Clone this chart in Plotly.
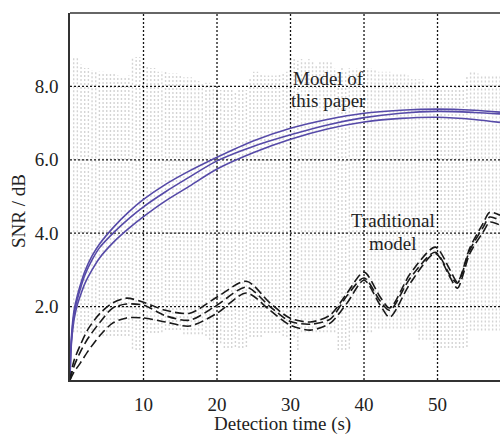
import numpy as np
import plotly.graph_objects as go

# ---------------- data ----------------
x_ticks = [10, 20, 30, 40, 50]
y_ticks = [2, 4, 6, 8]
y_tick_labels = ["2.0", "4.0", "6.0", "8.0"]

# background measurement spread (gray dotted columns), x = 0.5 ... 58.5 step 0.5
noise_x = list(np.arange(0.5, 58.51, 0.5))
noise_top = [
    8.8, 8.8, 8.6, 8.5, 8.5, 8.45, 8.4, 8.4, 8.4, 8.35,
    8.35, 8.35, 8.3, 8.25, 8.25, 8.3, 8.8, 8.8, 8.8, 8.6,
    8.55, 8.5, 8.5, 8.4, 8.4, 8.4, 8.35, 8.35, 8.35, 8.3,
    8.25, 8.25, 8.25, 8.2, 8.15, 8.1, 8.1, 8.1, 8.1, 8.0,
    7.9, 7.9, 7.95, 7.9, 7.85, 7.9, 7.95, 7.9, 8.2, 8.4,
    8.4, 8.35, 8.3, 8.3, 8.3, 8.3, 8.35, 8.35, 8.4, 8.75,
    8.75, 8.7, 8.75, 8.7, 8.75, 8.7, 8.6, 8.7, 8.7, 8.7,
    8.65, 8.5, 8.45, 8.5, 8.45, 8.5, 8.45, 8.5, 8.45, 8.5,
    8.5, 8.5, 8.45, 8.4, 8.4, 8.4, 8.4, 8.35, 8.35, 8.35,
    8.35, 8.3, 8.2, 8.2, 8.2, 8.2, 8.0, 7.95, 7.95, 7.95,
    7.95, 7.9, 7.95, 7.95, 8.0, 8.0, 7.95, 8.3, 8.4, 8.4,
    8.35, 8.3, 8.3, 8.3, 8.3, 8.3, 8.3,
]
noise_bottom = [
    1.3, 1.3, 1.28, 1.28, 1.28, 1.25, 1.25, 1.2, 1.2, 1.2,
    1.2, 1.2, 1.2, 1.2, 1.2, 1.2, 0.85, 0.82, 0.82, 0.85,
    1.28, 1.28, 1.28, 1.28, 1.3, 1.36, 1.36, 1.36, 1.36, 1.36,
    1.25, 1.25, 1.25, 1.25, 1.25, 1.25, 1.2, 1.1, 1.0, 1.0,
    1.0, 0.87, 0.87, 0.87, 0.9, 0.87, 0.87, 0.9, 1.17, 1.17,
    1.17, 1.17, 1.28, 1.28, 1.28, 1.28, 1.28, 1.2, 1.17, 1.17,
    1.17, 0.82, 1.3, 1.3, 1.3, 1.3, 1.3, 1.3, 1.3, 1.3,
    1.3, 1.3, 0.82, 0.82, 0.82, 0.85, 1.3, 1.3, 1.3, 1.3,
    1.3, 1.3, 1.4, 1.4, 1.4, 1.4, 1.4, 1.4, 1.4, 1.4,
    1.4, 1.4, 1.4, 1.4, 1.1, 1.1, 1.1, 1.1, 0.87, 0.87,
    0.87, 0.87, 0.87, 0.87, 0.87, 0.87, 0.87, 0.9, 1.35, 1.35,
    1.35, 1.35, 1.35, 1.35, 1.35, 1.35, 1.35,
]

# "Model of this paper" curves
model_x = [0, 0.1, 0.3, 0.6, 1, 1.5, 2, 3, 4, 6, 8, 10, 13, 16, 20, 25, 30, 35, 40, 45, 50, 55, 58.5]
model_1 = [0, 0.8, 1.45, 1.95, 2.3, 2.65, 2.95, 3.38, 3.7, 4.18, 4.58, 4.92, 5.33, 5.67, 6.07, 6.52, 6.86, 7.1, 7.27, 7.35, 7.38, 7.35, 7.3]
model_2 = [0, 0.75, 1.35, 1.85, 2.2, 2.55, 2.85, 3.27, 3.6, 4.03, 4.4, 4.72, 5.13, 5.5, 5.97, 6.37, 6.68, 6.95, 7.15, 7.27, 7.32, 7.29, 7.25]
model_3 = [0, 0.7, 1.25, 1.7, 2.05, 2.35, 2.62, 3.0, 3.32, 3.77, 4.13, 4.45, 4.88, 5.25, 5.75, 6.2, 6.56, 6.84, 7.03, 7.13, 7.16, 7.1, 7.02]

# "Traditional model" curves
trad_x = [0, 0.5, 1.4, 2.5, 4.1, 5.8, 7.7, 10, 13, 16.3, 20, 24, 27.2, 29.9, 32.7, 35.4, 37.7, 40, 42.2, 43.5,
          46.3, 49.7, 51.7, 52.7, 54.4, 56.2, 57.1, 58.5]
trad_1 = [0, 0.5, 0.95, 1.4, 1.82, 2.1, 2.23, 2.12, 1.9, 1.82, 2.26, 2.69, 2.1, 1.69, 1.58, 1.77, 2.37, 2.94, 2.26, 1.96,
          2.9, 3.62, 3.0, 2.67, 3.6, 4.27, 4.57, 4.49]
trad_2 = [0, 0.35, 0.76, 1.15, 1.58, 1.96, 2.07, 2.04, 1.75, 1.63, 2.04, 2.53, 2.0, 1.6, 1.52, 1.66, 2.3, 2.78, 2.15, 1.9,
          2.78, 3.48, 2.86, 2.64, 3.54, 4.16, 4.44, 4.35]
trad_3 = [0, 0.2, 0.46, 0.8, 1.22, 1.55, 1.69, 1.69, 1.58, 1.47, 1.82, 2.37, 1.9, 1.5, 1.36, 1.55, 2.1, 2.72, 2.04, 1.71,
          2.64, 3.45, 2.8, 2.5, 3.45, 4.03, 4.3, 4.22]

X_RANGE = [0, 58.5]
Y_RANGE = [0, 10]

FONT = "Liberation Serif, Times New Roman, serif"
BLUE = "rgb(86,74,168)"
TXT = "#222"
FS = 19

fig = go.Figure()

# gray dotted columns
nx, ny = [], []
for xv, b, t in zip(noise_x, noise_bottom, noise_top):
    nx += [xv, xv, None]
    ny += [b, t, None]
fig.add_trace(go.Scatter(x=nx, y=ny, mode="lines", hoverinfo="skip",
                         line=dict(color="rgb(212,212,212)", width=1.4, dash="2px,2px")))

# dotted grid drawn as traces above the gray columns
gx, gy = [], []
for xv in x_ticks:
    gx += [xv, xv, None]
    gy += [Y_RANGE[0], Y_RANGE[1], None]
for yv in y_ticks:
    gx += [X_RANGE[0], X_RANGE[1], None]
    gy += [yv, yv, None]
fig.add_trace(go.Scatter(x=gx, y=gy, mode="lines", hoverinfo="skip",
                         line=dict(color="rgb(20,20,20)", width=1.3, dash="2px,2px")))

for ys in (model_1, model_2, model_3):
    fig.add_trace(go.Scatter(x=model_x, y=ys, mode="lines",
                             line=dict(color=BLUE, width=1.6, shape="spline", smoothing=0.8)))

for ys in (trad_1, trad_2, trad_3):
    fig.add_trace(go.Scatter(x=trad_x, y=ys, mode="lines",
                             line=dict(color="rgb(25,25,25)", width=1.6, dash="9px,4px",
                                       shape="spline", smoothing=0.8)))

W, H = 500, 434
PL, PT, PR, PB = 70, 13, 500, 380   # plot area in pixels
ML, MR, MT, MB = PL, W - PR, PT, H - PB
pw, ph = PR - PL, PB - PT

annotations = [
    dict(x=35.2, y=8.22, text="Model of", xref="x", yref="y"),
    dict(x=35.2, y=7.62, text="this paper", xref="x", yref="y"),
    dict(x=44.0, y=4.35, text="Traditional", xref="x", yref="y"),
    dict(x=44.0, y=3.73, text="model", xref="x", yref="y"),
    dict(x=(282 - PL) / pw, y=1 - (424 - PT) / ph, text="Detection time (s)",
         xref="paper", yref="paper"),
    dict(x=(18 - PL) / pw, y=1 - (211 - PT) / ph, text="SNR / dB",
         xref="paper", yref="paper", textangle=-90),
]
for a in annotations:
    a.update(showarrow=False, xanchor="center", yanchor="middle",
             font=dict(family=FONT, size=FS, color=TXT))

fig.update_layout(
    width=W, height=H,
    margin=dict(l=ML, r=MR, t=MT, b=MB, autoexpand=False),
    paper_bgcolor="white", plot_bgcolor="white",
    showlegend=False,
    font=dict(family=FONT, size=FS, color=TXT),
    annotations=annotations,
)
fig.update_xaxes(range=X_RANGE, tickvals=x_ticks, ticktext=[str(v) for v in x_ticks],
                 showgrid=False, zeroline=False, ticks="", ticklabelstandoff=6,
                 showline=True, linecolor="#333", linewidth=2, mirror=False)
fig.update_yaxes(range=Y_RANGE, tickvals=y_ticks, ticktext=y_tick_labels,
                 showgrid=False, zeroline=False, ticks="", ticklabelstandoff=6,
                 showline=True, linecolor="#333", linewidth=1.5, mirror=False)
# top frame line
fig.add_shape(type="line", xref="paper", yref="paper", x0=0, x1=1, y0=1, y1=1,
              line=dict(color="#333", width=1.5))

# remove the default page margin so the figure sits at the window origin
fig.write_html(
    "out.html",
    config={"displayModeBar": False},
    post_script="document.body.style.margin='0';"
                "document.documentElement.style.overflow='hidden';"
                "document.body.style.overflow='hidden';",
)
